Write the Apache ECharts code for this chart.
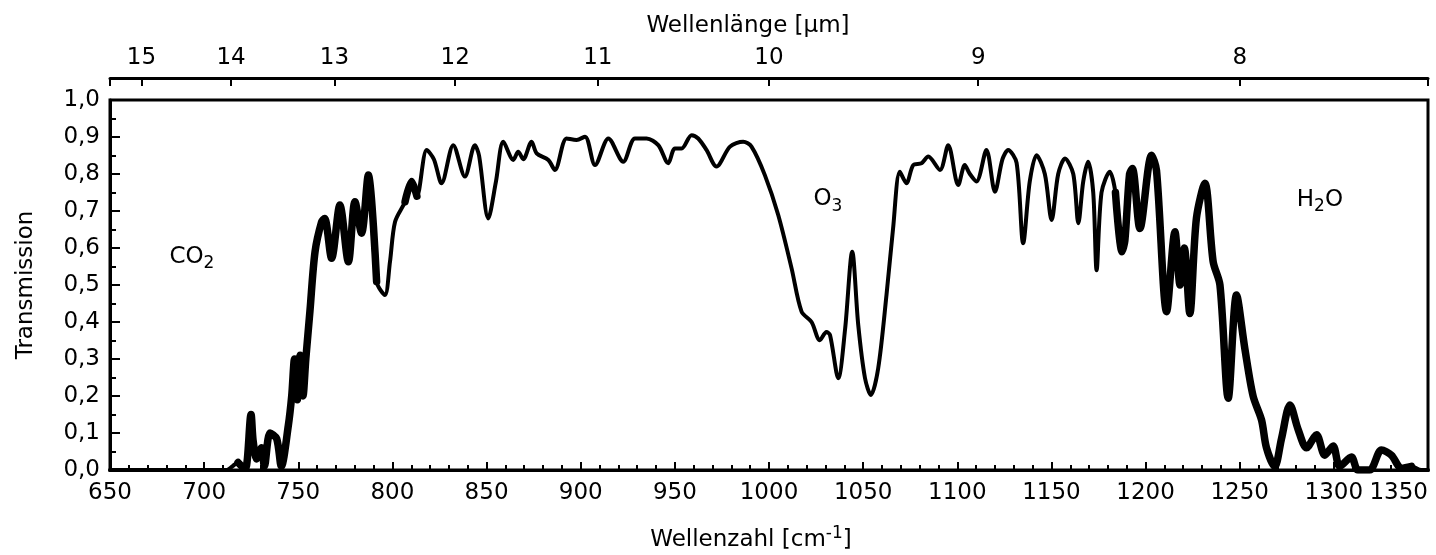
<!DOCTYPE html>
<html>
<head>
<meta charset="utf-8">
<script src="https://cdn.jsdelivr.net/npm/echarts@6/dist/echarts.min.js"></script>
<style>
html,body{margin:0;padding:0;background:#ffffff;}
#c{width:1436px;height:555px;}
</style>
</head>
<body>
<div id="c"></div>
<script>
// Wavenumber (cm-1) of each traced point
const wavenumber = [
  650, 700, 712, 715, 718, 720, 722, 724.9, 726, 727.9, 730.5, 732, 735, 738.5, 741,
  744.7, 746.5, 748, 749.5, 751, 752.5, 754, 756.2, 758.9, 762.4, 764, 767.7, 772.1, 776.6, 780.1,
  783.6, 787.2, 791.6, 796, 798.7, 801.4, 806.7, 810.2, 813, 818.2, 822, 826.1, 832.3,
  838.5, 843.8, 846, 850.9, 855, 858.9, 864.2, 866.8, 869.5, 873.9, 876.6, 882.8,
  886.3, 892.5, 897.8, 902.3, 907.6, 914.7, 922.6, 928.8, 935, 941.2, 946.5, 950,
  953.6, 958.9, 962.4, 966.8, 972.1, 979.3, 986.3, 990.7, 997.8, 1004.9, 1012, 1017.3,
  1022.6, 1027, 1030.5, 1032.4, 1036.8, 1040.4, 1044.2, 1047.4, 1051, 1054.1, 1058,
  1062.4, 1065.9, 1069.5, 1073, 1076.6, 1081, 1084.6, 1090.8, 1095.2, 1100.5, 1104,
  1106.7, 1110.2, 1115.5, 1120, 1124, 1127, 1131.5, 1135, 1138.5, 1142.1, 1146.5,
  1150.1, 1153.6, 1157.2, 1161.6, 1164.3, 1166.9, 1169.5, 1172.2, 1174, 1176.6, 1181,
  1184, 1187.5, 1189, 1191.5, 1193, 1197, 1203.2, 1205.8, 1211.2, 1215.6, 1218.3,
  1220.6, 1223.5, 1227, 1231.5, 1235.9, 1239.5, 1243.9, 1248.3, 1252.7, 1257.1, 1261.6,
  1264.2, 1268.6, 1272.2, 1276.7, 1281, 1285.5, 1290.8, 1295.2, 1299.6, 1303.1, 1309.3,
  1312.8, 1319, 1325.3, 1330.6, 1335.9, 1341.2, 1346.5, 1350
];
// Transmission at each traced point
const transmission = [
  0, 0, 0, 0.01, 0.02, 0.01, 0.005, 0.15, 0.08, 0.03, 0.06, 0.01, 0.1, 0.085, 0.01,
  0.12, 0.2, 0.3, 0.19, 0.31, 0.2, 0.3, 0.43, 0.59, 0.671, 0.68, 0.572, 0.716, 0.563, 0.725,
  0.64, 0.797, 0.509, 0.473, 0.563, 0.671, 0.725, 0.78, 0.74, 0.865, 0.84, 0.775, 0.878,
  0.793, 0.878, 0.85, 0.68, 0.78, 0.887, 0.838, 0.86, 0.84, 0.887, 0.856, 0.838,
  0.811, 0.896, 0.892, 0.901, 0.824, 0.896, 0.833, 0.896, 0.896, 0.878, 0.829, 0.869,
  0.869, 0.905, 0.896, 0.865, 0.82, 0.874, 0.887, 0.874, 0.797, 0.689, 0.545, 0.428,
  0.40, 0.351, 0.373, 0.365, 0.248, 0.38, 0.59, 0.392, 0.248, 0.203, 0.275,
  0.473, 0.653, 0.806, 0.775, 0.824, 0.829, 0.847, 0.811, 0.878, 0.77, 0.824,
  0.80, 0.78, 0.865, 0.752, 0.84, 0.865, 0.83, 0.613, 0.78, 0.851, 0.80,
  0.676, 0.80, 0.842, 0.80, 0.667, 0.78, 0.833, 0.75, 0.54, 0.75, 0.806,
  0.75, 0.59, 0.62, 0.80, 0.815, 0.653, 0.851, 0.81, 0.428, 0.644, 0.5,
  0.6, 0.423, 0.68, 0.775, 0.563, 0.5, 0.194, 0.473, 0.329, 0.2, 0.135,
  0.06, 0.009, 0.085, 0.176, 0.11, 0.06, 0.095, 0.04, 0.065, 0.01, 0.035,
  0, 0, 0.054, 0.04, 0.005, 0.01, 0, 0
];
// Wavenumber ranges where the spectrum is an unresolved (thick) band
const unresolvedRanges = [[716, 792], [803, 816], [1184, 1346]];
// Top axis: wavelength tick labels (µm)
const wavelengthTicks = [15, 14, 13, 12, 11, 10, 9, 8];
// Gas annotations: [wavenumber, transmission] of label centre
const gasNames = ['CO2', 'O3', 'H2O'];
const gasLabels = ['{n|CO}{s|2}', '{n|O}{s|3}', '{n|H}{s|2}{n|O}'];
const gasAt = [[693.5, 0.576], [1031.3, 0.732], [1292.6, 0.73]];

const FONT = 'DejaVu Sans';
const BLACK = '#000000';
const chart = echarts.init(document.getElementById('c'), null, {renderer: 'canvas'});

const lineData = wavenumber.map((v, i) => [v, transmission[i]]);
const inBand = v => unresolvedRanges.some(r => v >= r[0] && v <= r[1]);
const bandData = wavenumber.map((v, i) => inBand(v) ? [v, transmission[i]] : [v, null]);
const wlValues = wavelengthTicks.map(l => 10000 / l);

const baseText = {color: BLACK, fontSize: 23, fontFamily: FONT};
const subRich = {
  n: {color: BLACK, fontSize: 23, fontFamily: FONT, verticalAlign: 'middle'},
  s: {color: BLACK, fontSize: 17, fontFamily: FONT, verticalAlign: 'middle', padding: [14, 0, 0, 0]}
};

const option = {
  animation: false,
  backgroundColor: '#ffffff',
  grid: {
    left: 110, right: 8, top: 100, bottom: 85,
    show: true, borderColor: BLACK, borderWidth: 3,
    containLabel: false, outerBoundsMode: 'none'
  },
  xAxis: [
    {
      type: 'value', position: 'bottom', min: 650, max: 1350, interval: 50,
      splitLine: {show: false},
      axisLine: {onZero: false, lineStyle: {color: BLACK, width: 3}},
      axisTick: {inside: true, length: 8, lineStyle: {color: BLACK, width: 2}},
      minorTick: {show: true, splitNumber: 5, length: 5, lineStyle: {color: BLACK, width: 2}},
      axisLabel: Object.assign({
        margin: 12, alignMaxLabel: 'right', showMinLabel: true, showMaxLabel: true, hideOverlap: false,
        formatter: v => String(v)
      }, baseText),
      name: 'Wellenzahl [cm{sup|-1}]',
      nameLocation: 'middle', nameGap: 55,
      nameTextStyle: Object.assign({
        padding: [0, 36, 0, 0],
        rich: {sup: {color: BLACK, fontSize: 17, fontFamily: FONT, verticalAlign: 'middle', padding: [0, 0, 14, 0]}}
      }, baseText)
    },
    {
      type: 'value', position: 'top', offset: 22, min: 650, max: 1350,
      splitLine: {show: false},
      axisLine: {onZero: false, lineStyle: {color: BLACK, width: 3}},
      axisTick: {inside: true, length: 8, customValues: [650].concat(wlValues, [1350]), lineStyle: {color: BLACK, width: 2}},
      axisLabel: Object.assign({
        margin: 8, customValues: wlValues,
        formatter: v => String(Math.round(10000 / v))
      }, baseText),
      name: 'Wellenlänge [µm]',
      nameLocation: 'middle', nameGap: 40,
      nameTextStyle: Object.assign({padding: [0, 42, 0, 0]}, baseText)
    }
  ],
  yAxis: [
    {
      type: 'value', min: 0, max: 1, interval: 0.1,
      splitLine: {show: false},
      axisLine: {onZero: false, lineStyle: {color: BLACK, width: 3}},
      axisTick: {inside: true, length: 10, lineStyle: {color: BLACK, width: 2}},
      minorTick: {show: true, splitNumber: 2, length: 6, lineStyle: {color: BLACK, width: 2}},
      axisLabel: Object.assign({margin: 10, formatter: v => v.toFixed(1).replace('.', ',')}, baseText),
      name: 'Transmission', nameLocation: 'middle', nameGap: 72,
      nameTextStyle: baseText
    }
  ],
  series: [
    {
      name: 'Transmission',
      type: 'line',
      xAxisIndex: 0, yAxisIndex: 0,
      data: lineData,
      symbol: 'none', showSymbol: false,
      smooth: 0.3,
      clip: true,
      lineStyle: {color: BLACK, width: 4, join: 'round', cap: 'round'},
      markPoint: {
        symbol: 'circle', symbolSize: 1,
        itemStyle: {color: 'rgba(0,0,0,0)'},
        label: {show: true, position: 'inside', rich: subRich},
        data: gasAt.map((c, i) => ({name: gasNames[i], coord: c, label: {formatter: gasLabels[i]}}))
      }
    },
    {
      name: 'Feinstruktur',
      type: 'line',
      xAxisIndex: 0, yAxisIndex: 0,
      data: bandData,
      connectNulls: false,
      symbol: 'none', showSymbol: false,
      smooth: 0.3,
      clip: true,
      lineStyle: {color: BLACK, width: 7.5, join: 'round', cap: 'round'}
    }
  ]
};
chart.setOption(option);
</script>
</body>
</html>
